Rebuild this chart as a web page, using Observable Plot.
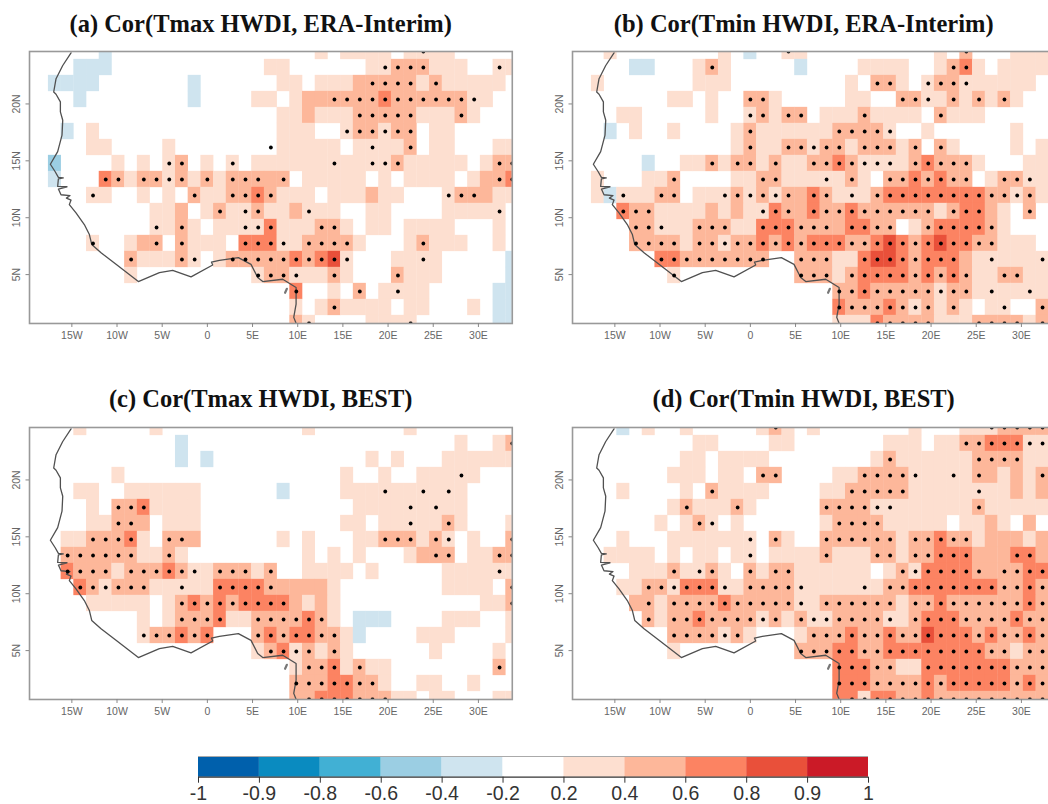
<!DOCTYPE html>
<html><head><meta charset="utf-8">
<script src="https://cdn.jsdelivr.net/npm/d3@7"></script>
<script src="https://cdn.jsdelivr.net/npm/@observablehq/plot@0.6"></script>
<style>
html,body{margin:0;padding:0;background:#fff;overflow:hidden}
#page{position:relative;width:1048px;height:804px;overflow:hidden;background:#fff}
.ttl{position:absolute;font:bold 24.5px/28px "Liberation Serif",serif;color:#111;white-space:nowrap;transform:translateX(-50%)}
.pn{position:absolute}
.pn svg{display:block;overflow:hidden;background:transparent;max-width:none!important}
.cells{filter:blur(.45px)}
.coast{filter:blur(.25px)}
</style></head><body><div id="page"></div>
<script>
// Each row runs from lat 24.6 (top) to lat 0.7 (bottom). Entries: [firstLonIndex, lastLonIndex, correlation].
const cellsA = [
 [[-8,-8,-.3],[9,9,.3],[11,14,.3],[16,19,.3]],
 [[-10,-8,-.3],[5,6,.3],[13,14,.3],[15,17,.5],[18,20,.3],[23,24,.3]],
 [[-12,-9,-.3],[-1,-1,-.3],[6,7,.3],[9,11,.3],[12,16,.5],[17,17,.3],[18,18,.5],[19,23,.3]],
 [[-10,-10,-.3],[-1,-1,-.3],[4,5,.3],[7,7,.3],[8,13,.5],[14,14,.7],[15,20,.5],[21,22,.3]],
 [[6,7,.3],[8,8,.5],[9,11,.3],[12,16,.5],[17,19,.3],[20,20,.5],[21,21,.3]],
 [[-11,-11,-.3],[-9,-9,.3],[6,8,.3],[11,11,.3],[12,13,.5],[14,14,.3],[15,16,.5],[18,19,.3]],
 [[-9,-8,.3],[-3,-3,.3],[6,10,.3],[12,15,.3],[16,16,.5],[18,19,.3],[23,24,.3]],
 [[-12,-12,-.5],[-7,-7,.3],[-5,-5,.3],[-3,-3,.3],[-2,-2,.5],[0,0,.3],[2,2,.3],[4,14,.3],[15,15,.5],[16,20,.3],[22,22,.3],[23,24,.5]],
 [[-12,-12,-.3],[-8,-8,.7],[-7,-7,.5],[-6,-6,.3],[-5,-4,.5],[-3,-3,.3],[-2,-2,.5],[-1,-1,.3],[0,0,.5],[1,1,.3],[2,6,.5],[8,12,.3],[14,14,.3],[16,19,.3],[21,21,.3],[22,23,.5],[24,24,.7]],
 [[-9,-8,.3],[-5,-5,.3],[-3,-3,.3],[-1,-1,.5],[0,1,.3],[2,3,.5],[4,4,.7],[5,5,.5],[6,8,.3],[10,12,.3],[13,13,.5],[14,15,.3],[19,19,.3],[20,22,.5],[23,24,.3]],
 [[-4,-3,.3],[-2,-2,.5],[0,0,.3],[1,1,.5],[2,3,.3],[4,4,.5],[5,6,.3],[7,7,.5],[8,10,.3],[13,14,.3],[19,23,.3]],
 [[-4,-3,.3],[-2,-2,.5],[-1,-1,.3],[1,4,.3],[5,5,.7],[6,8,.3],[9,10,.5],[11,11,.3],[13,14,.3],[16,19,.3],[23,23,.3]],
 [[-9,-9,.3],[-6,-6,.3],[-5,-4,.5],[-2,-2,.5],[-1,1,.3],[3,5,.7],[6,7,.3],[8,11,.5],[12,12,.3],[16,16,.3],[17,17,.5],[18,20,.3],[23,23,.3]],
 [[-6,-6,.5],[-5,-3,.3],[-2,-2,.5],[-1,-1,.3],[1,1,.3],[2,6,.5],[7,7,.7],[8,8,.5],[9,9,.7],[10,10,.85],[11,11,.3],[15,18,.3],[24,24,-.3]],
 [[-6,-6,.3],[4,4,.3],[5,6,.5],[7,9,.3],[10,10,.5],[11,11,.3],[15,15,.5],[16,18,.3],[24,24,-.3]],
 [[7,7,.7],[10,10,.3],[12,12,.5],[14,17,.3],[23,24,-.3]],
 [[7,7,.3],[9,9,.3],[10,10,.5],[11,14,.3],[16,17,.3],[21,21,.3],[23,24,-.3]],
 [[7,7,.5],[8,8,.3],[13,16,.3],[23,24,-.3]]
];
const dotsA = [
 [[17,17]],[[14,17],[23,23]],[[13,16],[18,18]],[[10,21]],[[12,16],[20,20]],[[11,16]],
 [[5,5],[13,13],[16,16]],[[-3,-2],[2,2],[10,10],[13,15],[23,24]],
 [[-8,-7],[-5,-2],[0,0],[2,4],[6,6],[23,24]],[[-9,-9],[-1,-1],[2,5],[19,21]],
 [[1,1],[3,4],[8,8],[23,23]],[[-4,-4],[-2,-2],[3,5],[9,10]],
 [[-9,-9],[-4,-4],[-2,-2],[3,6],[8,11],[17,17]],[[-6,-6],[-2,-1],[2,11],[17,17]],
 [[4,7],[10,10],[15,15]],[[7,7],[12,12],[15,15]],[[10,10]],[[8,8],[16,16]]
];
const cellsB = [
 [[-11,-11,.3],[-2,-2,.3],[0,0,-.3],[3,4,.3],[15,15,.3],[17,17,.5],[21,23,.3]],
 [[-9,-8,-.3],[-4,-4,.3],[-3,-3,.5],[-2,-2,.3],[4,4,-.3],[9,12,.3],[15,15,.3],[16,16,.5],[17,17,.7],[18,18,.3],[20,23,.3]],
 [[-12,-12,.3],[-4,-2,.3],[8,8,.3],[10,11,.5],[12,12,.3],[14,14,.3],[15,16,.5],[17,22,.3]],
 [[-6,-5,.3],[-3,-3,.3],[0,1,.5],[2,2,.3],[8,9,.3],[12,13,.5],[14,15,.3],[16,16,.5],[17,17,.3],[18,18,.5],[19,19,.3],[20,20,.5],[21,21,.3]],
 [[-10,-9,.3],[-3,-3,.3],[0,0,.3],[1,1,.5],[2,2,.3],[3,4,.5],[6,8,.3],[9,9,.5],[10,13,.3],[15,15,.5],[16,18,.3]],
 [[-11,-11,-.3],[-9,-9,.3],[-6,-6,.3],[-1,-1,.3],[0,0,.5],[1,6,.3],[7,10,.5],[11,11,.3],[14,14,.3],[21,21,.3]],
 [[-1,-1,.3],[0,0,.5],[1,2,.3],[3,4,.5],[5,5,.3],[6,7,.5],[8,8,.3],[9,11,.5],[12,12,.3],[13,13,.5],[15,15,.5],[16,16,.3],[21,21,.3],[23,24,.3]],
 [[-8,-8,-.3],[-5,-4,.3],[-3,-3,.5],[-2,-2,.3],[-1,0,.5],[1,1,.3],[2,2,.5],[3,4,.3],[5,6,.5],[7,7,.7],[8,8,.5],[9,12,.3],[13,13,.5],[14,14,.7],[15,17,.5],[18,18,.3],[22,24,.3]],
 [[-12,-12,.3],[-8,-7,.3],[-6,-6,.5],[-1,0,.3],[1,2,.5],[3,7,.3],[8,8,.5],[9,9,.3],[11,12,.5],[13,13,.7],[14,14,.5],[15,15,.7],[16,17,.5],[19,19,.3],[20,21,.5],[22,24,.3]],
 [[-12,-12,.3],[-11,-11,-.3],[-10,-8,.3],[-7,-6,.5],[-4,-2,.3],[-1,-1,.5],[0,0,.3],[1,1,.5],[2,2,.3],[3,4,.5],[5,5,.7],[6,6,.5],[7,9,.3],[10,10,.5],[11,18,.7],[19,20,.5],[21,21,.3],[22,22,.5],[23,23,.3]],
 [[-10,-10,.7],[-9,-8,.5],[-7,-4,.3],[-3,-3,.5],[-2,-2,.3],[-1,-1,.5],[0,1,.3],[2,2,.7],[3,4,.5],[5,5,.7],[6,7,.5],[8,8,.7],[9,14,.5],[15,15,.3],[16,16,.5],[17,18,.7],[19,19,.5],[20,20,.3],[22,22,.5]],
 [[-9,-8,.5],[-7,-5,.3],[-4,-2,.5],[-1,0,.3],[1,3,.7],[4,7,.5],[8,9,.7],[10,11,.5],[13,13,.3],[14,14,.5],[15,18,.7],[19,19,.5],[20,20,.3]],
 [[-9,-6,.5],[-5,-5,.3],[-4,-3,.5],[-2,-2,.3],[-1,0,.5],[1,1,.7],[2,2,.5],[3,3,.7],[4,4,.5],[5,7,.7],[8,9,.5],[10,10,.7],[11,11,.85],[12,12,.7],[13,13,.5],[14,14,.7],[15,15,.85],[16,17,.7],[18,19,.5],[20,22,.3]],
 [[-7,-6,.7],[-5,1,.5],[4,6,.5],[7,8,.3],[9,9,.7],[10,11,.85],[12,12,.7],[13,13,.5],[14,16,.7],[17,17,.5],[18,24,.3]],
 [[-6,-6,.3],[4,6,.5],[7,7,.3],[8,8,.5],[9,12,.7],[13,13,.5],[14,14,.7],[15,15,.5],[16,16,.7],[17,17,.5],[18,19,.3],[20,21,.5],[22,24,.3]],
 [[7,8,.5],[9,9,.7],[10,14,.5],[15,15,.3],[16,17,.5],[18,24,.3]],
 [[7,7,.7],[8,10,.5],[11,11,.7],[12,12,.5],[13,13,.3],[14,14,.5],[15,15,.3],[16,16,.5],[17,17,.3],[19,20,.3],[23,24,.5]],
 [[7,7,.3],[8,9,.3],[10,10,.7],[11,14,.5],[15,17,.3],[18,21,.5],[22,22,.3],[23,24,.5]]
];
const dotsB = [
 [[3,3],[17,17]],[[-3,-3],[16,17]],[[10,11],[14,17]],[[0,1],[12,14],[16,16],[18,18],[20,20]],
 [[0,1],[3,4],[9,9],[15,15]],[[0,0],[7,11]],[[0,0],[3,7],[9,11],[13,13],[15,15]],
 [[-3,-3],[-1,0],[2,2],[5,11],[13,17]],[[-6,-6],[1,2],[6,6],[8,8],[11,17],[20,22]],
 [[-10,-10],[-7,-6],[-2,3],[5,6],[8,8],[10,22]],[[-10,-8],[1,3],[5,14],[16,18],[22,22]],
 [[-9,-7],[-4,-2],[1,6],[8,11],[14,19]],[[-9,-6],[-4,19]],[[-7,1],[4,6],[9,16],[19,19],[23,23]],
 [[-6,-6],[4,6],[8,17],[20,21]],[[7,17],[19,19],[22,22]],[[7,14],[16,16],[20,20],[23,23]],
 [[10,14],[18,21],[23,23]]
];
const cellsC = [
 [[-10,-10,.3],[-4,-4,.3],[8,8,.3],[16,16,.3]],
 [[-2,-2,-.3],[20,20,.3],[23,23,.3],[24,24,.5]],
 [[-2,-2,-.3],[0,0,-.3],[13,13,.3],[15,15,.3],[19,24,.3]],
 [[-7,-7,.3],[11,11,.3],[14,14,.3],[17,21,.3]],
 [[-10,-9,.3],[-6,-1,.3],[6,6,-.3],[11,20,.3]],
 [[-9,-9,.3],[-7,-6,.5],[-5,-5,.7],[-4,-1,.3],[12,20,.3]],
 [[-9,-8,.3],[-7,-5,.5],[-3,-1,.3],[11,12,.3],[14,18,.3],[19,19,.5],[20,20,.3],[24,24,.3]],
 [[-11,-10,.3],[-9,-7,.5],[-6,-6,.7],[-5,-5,.3],[-3,-1,.5],[6,6,.3],[8,8,.3],[12,13,.3],[14,16,.5],[17,17,.3],[18,18,.5],[19,19,.3],[21,21,.3],[24,24,.5]],
 [[-11,-6,.5],[-5,-4,.3],[-3,-3,.5],[-2,-2,.3],[8,8,.3],[10,10,.3],[12,12,.3],[16,16,.3],[17,19,.5],[21,22,.3],[23,24,.5]],
 [[-11,-11,.7],[-10,-8,.5],[-7,-7,.3],[-6,-4,.5],[-3,-3,.7],[-2,-2,.5],[-1,0,.3],[1,3,.5],[4,4,.3],[5,5,.5],[8,11,.3],[13,13,.3],[19,24,.3]],
 [[-10,-10,.7],[-9,-9,.5],[-8,-8,.3],[-7,-5,.5],[-4,0,.3],[1,4,.7],[5,9,.5],[10,10,.3],[19,22,.3],[24,24,.5]],
 [[-9,-5,.3],[-3,-3,.3],[-2,-2,.5],[-1,-1,.7],[0,0,.5],[1,1,.7],[2,2,.5],[3,6,.7],[7,7,.5],[8,8,.3],[9,9,.5],[10,10,.3],[22,23,.3],[24,24,.5]],
 [[-5,-5,.3],[-3,-3,.3],[-2,0,.5],[1,1,.7],[2,3,.3],[4,7,.5],[8,8,.7],[9,9,.5],[10,10,.3],[12,14,-.3],[19,21,.3],[24,24,.3]],
 [[-5,-5,.3],[-4,-3,.5],[-2,-2,.7],[-1,-1,.5],[0,0,.7],[4,4,.5],[5,5,.7],[6,6,.5],[7,8,.7],[9,10,.5],[11,11,.3],[12,12,-.3],[17,19,.3],[24,24,.3]],
 [[4,4,.3],[5,5,.5],[6,6,.7],[7,7,.3],[8,8,.5],[9,9,.3],[10,10,.5],[11,11,.3],[18,18,.3],[23,23,.3]],
 [[7,7,.3],[8,9,.5],[10,10,.7],[11,11,.3],[12,12,.5],[13,14,.3],[23,23,.5]],
 [[7,9,.5],[10,11,.7],[12,13,.5],[14,14,.3],[17,18,.3],[21,21,.3]],
 [[7,8,.5],[9,11,.7],[12,14,.5],[15,16,.3],[18,19,.3],[23,24,.3]]
];
const dotsC = [
 [],[[24,24]],[],[[20,20]],[[14,14],[17,17],[19,19]],[[-7,-5],[16,16],[18,18]],[[-7,-6],[16,16],[19,19]],
 [[-9,-6],[-3,-2],[14,16],[18,19],[24,24]],[[-11,-6],[-3,-3],[18,19],[23,24]],
 [[-11,-8],[-6,-1],[1,3],[5,5],[23,23]],[[-10,-5],[-2,-2],[1,5],[24,24]],[[-2,6],[24,24]],
 [[-2,1],[4,9]],[[-5,0],[4,10]],[[5,8],[10,10]],[[8,10],[12,12],[23,23]],[[7,13]],[[8,14]]
];
const cellsD = [
 [[-10,-10,-.3],[-8,-8,.3],[-5,-5,.3],[1,1,.3],[2,2,.5],[3,3,.3],[5,5,.3],[13,13,.3],[17,19,.3],[20,24,.5]],
 [[-4,-3,.3],[2,3,.3],[11,13,.3],[15,16,.3],[17,18,.5],[19,21,.7],[22,24,.3]],
 [[-5,-4,.3],[-2,1,.3],[10,10,.3],[11,11,.5],[12,17,.3],[18,21,.5],[22,24,.3]],
 [[-6,-4,.3],[-2,-1,.3],[1,2,.5],[7,8,.3],[9,12,.5],[13,17,.3],[18,19,.5],[20,20,.3],[21,21,.5],[22,22,.3],[23,24,.5]],
 [[-10,-10,.3],[-5,-5,.3],[-3,-3,.5],[-2,1,.3],[6,7,.3],[8,12,.5],[13,20,.3],[21,21,.5],[22,22,.3],[23,24,.5]],
 [[-6,-6,.3],[-5,-5,.5],[-4,-2,.3],[-1,-1,.5],[0,0,.3],[6,9,.5],[10,17,.3],[18,18,.5],[19,24,.3]],
 [[-7,-7,.3],[-5,-5,.3],[-4,-4,.5],[-3,-3,.3],[-1,-1,.3],[6,6,.3],[7,10,.5],[11,15,.3],[17,18,.3],[19,19,.5],[20,20,.3],[22,22,.5]],
 [[-10,-10,.3],[-6,0,.3],[2,2,.5],[3,3,.3],[6,11,.5],[12,12,.3],[13,14,.5],[15,15,.7],[16,17,.5],[18,18,.3],[19,21,.5],[22,22,.3],[23,24,.5]],
 [[-11,-8,.3],[-6,-6,.3],[-4,-3,.3],[-1,0,.3],[2,5,.3],[6,6,.5],[7,9,.3],[10,11,.5],[12,12,.3],[13,14,.5],[15,17,.7],[18,20,.5],[21,22,.7],[23,24,.5]],
 [[-9,-7,.3],[-6,-6,.5],[-5,-4,.3],[-3,-3,.5],[-2,-2,.3],[0,0,.5],[1,1,.3],[2,3,.5],[4,9,.3],[11,11,.3],[12,12,.5],[13,13,.3],[14,17,.7],[18,21,.5],[22,24,.7]],
 [[-10,-9,.3],[-8,-7,.5],[-6,-6,.3],[-5,-3,.7],[-2,-1,.3],[0,3,.5],[4,10,.3],[11,12,.5],[13,19,.7],[20,21,.5],[22,22,.7],[23,24,.5]],
 [[-9,-8,.5],[-7,-7,.3],[-6,-3,.5],[-2,-2,.7],[-1,3,.5],[4,5,.3],[6,11,.5],[12,12,.3],[13,14,.5],[15,15,.7],[16,21,.5],[22,22,.7],[23,24,.5]],
 [[-8,-8,.5],[-7,-7,.3],[-6,-5,.5],[-4,-4,.7],[-3,0,.5],[1,1,.3],[2,2,.5],[3,3,.3],[4,4,.5],[5,6,.3],[7,10,.5],[11,12,.3],[13,13,.5],[14,16,.7],[17,20,.5],[21,21,.7],[22,24,.5]],
 [[-6,-3,.5],[-2,-2,.3],[-1,-1,.5],[0,0,.3],[4,4,.3],[5,7,.5],[8,8,.7],[9,10,.5],[11,11,.7],[12,13,.5],[14,14,.85],[15,17,.7],[18,18,.5],[19,19,.7],[20,21,.5],[22,22,.7],[23,24,.5]],
 [[-6,-6,.3],[4,6,.5],[7,8,.7],[9,10,.5],[11,18,.7],[19,20,.5],[21,21,.3],[22,24,.5]],
 [[7,9,.7],[10,11,.5],[12,13,.3],[14,20,.7],[21,24,.5]],
 [[7,9,.7],[10,13,.5],[14,14,.7],[15,15,.5],[16,20,.7],[21,21,.5],[22,22,.7],[23,24,.5]],
 [[7,8,.7],[9,9,.3],[10,11,.7],[12,13,.5],[14,14,.7],[15,24,.5]]
];
const dotsD = [
 [[2,2],[19,23]],[[17,23]],[[11,11],[18,21]],[[1,2],[9,13],[16,16],[18,18],[23,23]],
 [[-3,-3],[8,12],[18,18]],[[-5,-5],[-1,-1],[6,11],[18,18]],[[-4,-3],[7,10]],
 [[0,0],[2,2],[6,11],[13,17]],[[0,0],[6,6],[10,11],[13,17],[21,22]],
 [[-6,-6],[-4,-3],[0,0],[2,3],[12,18],[20,23]],[[-8,-2],[0,4],[9,9],[11,23]],
 [[-8,-8],[-6,4],[6,11],[13,23]],[[-8,-8],[-6,2],[4,11],[13,23]],[[-6,-1],[5,23]],
 [[4,20],[22,23]],[[7,11],[14,23]],[[7,23]],[[8,23]]
];
const coastLon = [-15.09,-16.01,-16.75,-17.01,-16.75,-16.27,-16.27,-16.01,-16.09,-16.57,-17.38,-16.86,-16.49,-15.95,-16.49,-16.57,-15.54,-16.49,-16.2,-15.2,-15.6,-15.09,-15.28,-14.54,-13.62,-13.06,-12.8,-11.77,-10.11,-7.64,-5.31,-3.84,-1.81,.59,.45,1.33,3.43,4.83,5.57,6.13,8.34,9.82,9.82,9.56,9.82];
const coastLat = [24.49,23.38,22.22,21.05,20.85,20.18,19.3,18.57,17.26,15.81,14.7,14.06,13.55,13.5,13.42,12.75,12.72,12.52,12.02,11.95,11.72,11.55,11.15,10.42,9.4,8.52,7.65,6.92,5.9,4.39,5.17,5.38,4.8,5.84,6.1,6.25,6.49,5.9,4.74,4.39,4.59,3.86,2.41,1.24,.72];
const islandLon = [8.6,8.8];
const islandLat = [3.4,3.75];
const panelTitles = ["(a) Cor(Tmax HWDI, ERA-Interim)","(b) Cor(Tmin HWDI, ERA-Interim)","(c) Cor(Tmax HWDI, BEST)","(d) Cor(Tmin HWDI, BEST)"];
const lonTicks = [-15,-10,-5,0,5,10,15,20,25,30];
const latTicks = [5,10,15,20];
const barBreaks = [-.9,-.8,-.6,-.4,-.2,.2,.4,.6,.8,.9];
const barColors = ["#0060ac","#0a8bc0","#41b0d4","#9bcee3","#cfe4ef","#ffffff","#fddfd0","#fdb79a","#fc8362","#e9503a","#cb1a27"];
const barLabels = ["-1","-0.9","-0.8","-0.6","-0.4","-0.2","0.2","0.4","0.6","0.8","0.9","1"];
const barMids = [-.95,-.85,-.7,-.5,-.3,0,.3,.5,.7,.85,.95];

const STEP = 1.40625;
const colorOpt = {type:"threshold",domain:barBreaks,range:barColors};
const lonFmt = d => d===0 ? "0" : d<0 ? (-d)+"W" : d+"E";
const page = document.getElementById("page");

function expandCells(rows){
  const out=[];
  rows.forEach((row,r)=>row.forEach(([a,b,v])=>{
    for(let k=a;k<=b;k++) out.push({lon:k*STEP,lat:(17.5-r)*STEP,v});
  }));
  return out;
}
function expandDots(rows){
  const out=[];
  rows.forEach((row,r)=>row.forEach(([a,b])=>{
    for(let k=a;k<=b;k++) out.push({lon:k*STEP,lat:(17.5-r)*STEP});
  }));
  return out;
}
const land = coastLon.map((x,i)=>({x,y:coastLat[i]}));
const island = islandLon.map((x,i)=>({x,y:islandLat[i]}));

function panel(cells,dots,title,fx,fy,titleTop){
  const mL=30,mT=3,mR=3,mB=30,W=482.8,H=272;
  const chart = Plot.plot({
    width:mL+W+mR,height:mT+H+mB,marginLeft:mL,marginTop:mT,marginRight:mR,marginBottom:mB,
    x:{domain:[-14*STEP,24*STEP]},y:{domain:[.5*STEP,17.5*STEP]},color:colorOpt,
    style:{background:"transparent",fontFamily:"'Liberation Sans',sans-serif"},
    marks:[
      Plot.rect(expandCells(cells),{x1:d=>d.lon-STEP/2,x2:d=>d.lon+STEP/2,y1:d=>d.lat-STEP/2,y2:d=>d.lat+STEP/2,fill:"v",clip:true,className:"cells",inset:-.15}),
      Plot.line(land,{x:"x",y:"y",stroke:"#505050",strokeWidth:1.3,clip:true,className:"coast"}),
      Plot.line(island,{x:"x",y:"y",stroke:"#777",strokeWidth:2.2,className:"coast"}),
      Plot.dot(expandDots(dots),{x:"lon",y:"lat",r:1.9,fill:"#000",stroke:null,clip:true}),
      Plot.frame({stroke:"#999",strokeWidth:1.6}),
      Plot.axisX({ticks:lonTicks,tickFormat:lonFmt,tickSize:4,tickPadding:4,stroke:"#888",fill:"#666",fontSize:10.5,label:null}),
      Plot.axisY({ticks:latTicks,tickFormat:d=>d+"N",tickSize:3.5,tickPadding:6,tickRotate:-90,textAnchor:"middle",stroke:"#888",fill:"#666",fontSize:10.5,label:null})
    ]
  });
  const box=document.createElement("div");
  box.className="pn";
  box.style.left=(fx-mL)+"px";box.style.top=(fy-mT)+"px";box.style.width=(mL+W+mR)+"px";
  box.appendChild(chart);page.appendChild(box);
  const t=document.createElement("div");
  t.className="ttl";t.textContent=title;
  t.style.left=(fx+232)+"px";t.style.top=titleTop+"px";
  page.appendChild(t);
}
panel(cellsA,dotsA,panelTitles[0],28.7,50.7,10);
panel(cellsB,dotsB,panelTitles[1],571.7,50.7,10);
panel(cellsC,dotsC,panelTitles[2],28.7,427,385);
panel(cellsD,dotsD,panelTitles[3],571.7,427,385);

const bar = Plot.plot({
  width:730,height:49,marginLeft:30,marginRight:30,marginTop:1,marginBottom:27.3,
  x:{domain:[0,11]},y:{domain:[0,1],axis:null},color:colorOpt,
  style:{background:"transparent",fontFamily:"'Liberation Sans',sans-serif"},
  marks:[
    Plot.rect(barMids.map((v,i)=>({i,v})),{x1:"i",x2:d=>d.i+1,y1:0,y2:1,fill:"v",className:"cells"}),
    Plot.ruleY([1],{stroke:"#aaa",strokeWidth:1}),
    Plot.ruleY([0],{stroke:"#333",strokeWidth:1.2}),
    Plot.axisX({ticks:d3.range(12),tickFormat:i=>barLabels[i],tickSize:6,tickPadding:3,stroke:"#333",fill:"#333",fontSize:19.5,label:null})
  ]
});
const bb=document.createElement("div");bb.className="pn";bb.style.left="167.5px";bb.style.top="755px";bb.style.width="730px";
bb.appendChild(bar);page.appendChild(bb);
</script></body></html>
